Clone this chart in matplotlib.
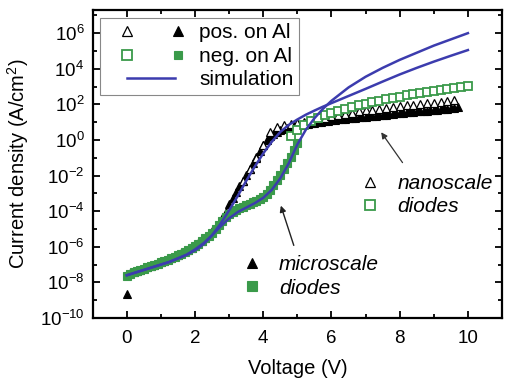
import numpy as np
import matplotlib
matplotlib.use('Agg')
import matplotlib.pyplot as plt
from matplotlib.lines import Line2D
from matplotlib.ticker import LogLocator, NullFormatter

# Voltages (V) and log10 of current density (A/cm^2)
v_neg_micro = [0.0, 0.1, 0.2, 0.3, 0.4, 0.5, 0.6, 0.7, 0.8, 0.9,
               1.0, 1.1, 1.2, 1.3, 1.4, 1.5, 1.6, 1.7, 1.8, 1.9,
               2.0, 2.1, 2.2, 2.3, 2.4, 2.5, 2.6, 2.7, 2.8, 2.9,
               3.0, 3.1, 3.2, 3.3, 3.4, 3.5, 3.6, 3.7, 3.8, 3.9,
               4.0, 4.1, 4.2, 4.3, 4.4, 4.5, 4.6, 4.7, 4.8, 4.9, 5.0]
j_neg_micro = [-7.65, -7.52, -7.44, -7.37, -7.30, -7.23, -7.16, -7.09, -7.02, -6.95,
               -6.88, -6.80, -6.72, -6.64, -6.56, -6.47, -6.38, -6.28, -6.18, -6.07,
               -5.95, -5.82, -5.68, -5.53, -5.37, -5.20, -5.00, -4.78, -4.55, -4.33,
               -4.15, -4.02, -3.92, -3.83, -3.75, -3.67, -3.59, -3.50, -3.41, -3.32,
               -3.20, -3.02, -2.80, -2.55, -2.27, -1.97, -1.65, -1.30, -0.93, -0.55, -0.15]

v_pos_micro = [0.0, 0.1, 0.2, 0.3, 0.4, 0.5, 0.6, 0.7, 0.8, 0.9,
               1.0, 1.1, 1.2, 1.3, 1.4, 1.5, 1.6, 1.7, 1.8, 1.9,
               2.0, 2.1, 2.2, 2.3, 2.4, 2.5, 2.6, 2.7, 2.8, 2.9,
               3.0, 3.1, 3.2, 3.3, 3.4, 3.5, 3.6, 3.7, 3.8, 3.9,
               4.0, 4.1, 4.2, 4.3, 4.4, 4.5, 4.6, 4.7, 4.8, 4.9,
               5.0, 5.1, 5.2, 5.3, 5.4, 5.5, 5.6, 5.7, 5.8, 5.9,
               6.0, 6.1, 6.2, 6.3, 6.4, 6.5, 6.6, 6.7, 6.8, 6.9,
               7.0, 7.1, 7.2, 7.3, 7.4, 7.5, 7.6, 7.7, 7.8, 7.9,
               8.0, 8.1, 8.2, 8.3, 8.4, 8.5, 8.6, 8.7, 8.8, 8.9,
               9.0, 9.1, 9.2, 9.3, 9.4, 9.5, 9.6, 9.7]
j_pos_micro = [-8.65, -7.50, -7.42, -7.35, -7.28, -7.21, -7.14, -7.07, -7.00, -6.93,
               -6.86, -6.78, -6.70, -6.62, -6.54, -6.45, -6.36, -6.26, -6.16, -6.05,
               -5.93, -5.80, -5.65, -5.48, -5.30, -5.12, -4.94, -4.70, -4.40, -4.02,
               -3.62, -3.26, -2.92, -2.60, -2.28, -1.95, -1.62, -1.30, -0.97, -0.62,
               -0.30, -0.02, 0.20, 0.36, 0.47, 0.56, 0.62, 0.67, 0.72, 0.76,
               0.80, 0.83, 0.87, 0.90, 0.93, 0.96, 0.99, 1.02, 1.05, 1.08,
               1.11, 1.13, 1.15, 1.17, 1.19, 1.21, 1.23, 1.25, 1.27, 1.29,
               1.31, 1.33, 1.35, 1.37, 1.39, 1.41, 1.43, 1.45, 1.47, 1.49,
               1.51, 1.53, 1.55, 1.56, 1.58, 1.60, 1.62, 1.63, 1.65, 1.67,
               1.69, 1.71, 1.72, 1.74, 1.76, 1.78, 1.80, 1.83]

v_pos_nano = [3.4, 3.6, 3.8, 4.0, 4.2, 4.4, 4.6, 4.8, 5.0, 5.2, 5.4, 5.6, 5.8, 6.0,
              6.2, 6.4, 6.6, 6.8, 7.0, 7.2, 7.4, 7.6, 7.8, 8.0, 8.2, 8.4, 8.6, 8.8,
              9.0, 9.2, 9.4, 9.6]
j_pos_nano = [-2.30, -1.65, -1.00, -0.30, 0.45, 0.72, 0.82, 0.88, 0.95, 1.03, 1.10, 1.18,
              1.26, 1.34, 1.41, 1.48, 1.54, 1.60, 1.66, 1.71, 1.76, 1.81, 1.86, 1.90,
              1.94, 1.98, 2.02, 2.06, 2.10, 2.14, 2.18, 2.22]

v_neg_nano = [4.8, 5.0, 5.2, 5.4, 5.6, 5.8, 6.0, 6.2, 6.4, 6.6, 6.8, 7.0, 7.2, 7.4,
              7.6, 7.8, 8.0, 8.2, 8.4, 8.6, 8.8, 9.0, 9.2, 9.4, 9.6, 9.8, 10.0]
j_neg_nano = [0.20, 0.55, 0.85, 1.05, 1.22, 1.38, 1.52, 1.64, 1.75, 1.85, 1.95, 2.04,
              2.12, 2.20, 2.28, 2.36, 2.43, 2.50, 2.57, 2.63, 2.69, 2.75, 2.81, 2.87,
              2.93, 2.98, 3.03]

v_sim = [0.0, 0.25, 0.5, 0.75, 1.0, 1.25, 1.5, 1.75, 2.0, 2.25, 2.5, 2.75, 3.0,
         3.25, 3.5, 3.75, 4.0, 4.25, 4.5, 4.75, 5.0, 5.25, 5.5, 5.75, 6.0, 6.5,
         7.0, 7.5, 8.0, 8.5, 9.0, 9.5, 10.0]
j_sim_pos = [-7.60, -7.45, -7.30, -7.15, -7.00, -6.85, -6.65, -6.45, -6.20, -5.85,
             -5.35, -4.70, -3.95, -3.15, -2.30, -1.50, -0.75, -0.10, 0.45, 0.85,
             1.15, 1.42, 1.65, 1.87, 2.07, 2.47, 2.87, 3.28, 3.68, 4.05, 4.40, 4.73, 5.05]
j_sim_neg = [-7.60, -7.45, -7.30, -7.15, -7.00, -6.85, -6.65, -6.45, -6.15, -5.80,
             -5.35, -4.85, -4.40, -4.05, -3.80, -3.55, -3.25, -2.80, -2.15, -1.30,
             -0.25, 0.58, 1.22, 1.75, 2.20, 2.95, 3.55, 4.05, 4.50, 4.90, 5.30, 5.65, 6.00]

GREEN = '#3a9a4a'
BLUE = '#3c3cae'


class PairHandler:
    # open + filled marker at the two ends of the legend handle
    def legend_artist(self, legend, orig_handle, fontsize, handlebox):
        x0, y0 = handlebox.xdescent, handlebox.ydescent
        w, h = handlebox.width, handlebox.height
        arts = []
        for frac, src in zip((0.3, 1.0), orig_handle):
            m = Line2D([x0 + frac * w], [y0 + h / 2], linestyle='none',
                       marker=src.get_marker(), markersize=src.get_markersize() * 1.2,
                       markerfacecolor=src.get_markerfacecolor(),
                       markeredgecolor=src.get_markeredgecolor(),
                       markeredgewidth=src.get_markeredgewidth(),
                       transform=handlebox.get_transform())
            handlebox.add_artist(m)
            arts.append(m)
        return arts[0]


class SimHandler:
    def legend_artist(self, legend, orig_handle, fontsize, handlebox):
        x0, y0 = handlebox.xdescent, handlebox.ydescent
        w, h = handlebox.width, handlebox.height
        ln = Line2D([x0 + 0.3 * w, x0 + 0.95 * w], [y0 + h / 2, y0 + h / 2],
                    color=orig_handle.get_color(), lw=orig_handle.get_linewidth(),
                    transform=handlebox.get_transform())
        handlebox.add_artist(ln)
        return ln


plt.rcParams['font.family'] = ['Liberation Sans', 'DejaVu Sans']
plt.rcParams['mathtext.fontset'] = 'custom'
plt.rcParams['mathtext.rm'] = 'Liberation Sans'
plt.rcParams['mathtext.it'] = 'Liberation Sans:italic'

fig = plt.figure(figsize=(5.05, 3.8), dpi=100)
ax = fig.add_axes([0.1836, 0.1632, 0.8105, 0.8105])

def dec(vals):
    return [10.0 ** v for v in vals]

h_tri, = ax.plot(v_pos_micro, dec(j_pos_micro), linestyle='none', marker='^', ms=6,
                 mfc='black', mec='black', mew=0.8)
h_sq, = ax.plot(v_neg_micro, dec(j_neg_micro), linestyle='none', marker='s', ms=5.3,
                mfc=GREEN, mec=GREEN, mew=0.8)
h_tri_open, = ax.plot(v_pos_nano, dec(j_pos_nano), linestyle='none', marker='^', ms=6,
                      mfc='white', mec='black', mew=0.9)
h_sq_open, = ax.plot(v_neg_nano, dec(j_neg_nano), linestyle='none', marker='s', ms=5.5,
                     mfc='white', mec=GREEN, mew=1.3)
h_sim, = ax.plot(v_sim, dec(j_sim_pos), color=BLUE, lw=1.8)
ax.plot(v_sim, dec(j_sim_neg), color=BLUE, lw=1.8)

ax.set_yscale('log')
ax.set_xlim(-1, 11)
ax.set_ylim(1e-10, 2e7)
ax.set_xticks([0, 2, 4, 6, 8, 10])
ax.set_xticks([1, 3, 5, 7, 9], minor=True)
ax.yaxis.set_major_locator(LogLocator(base=100, numticks=20))
ax.yaxis.set_minor_locator(LogLocator(base=10, numticks=30))
ax.yaxis.set_minor_formatter(NullFormatter())
ax.tick_params(which='both', direction='in', top=True, right=True, width=1.3,
               labelsize=13.5)
ax.tick_params(axis='x', pad=9)
ax.tick_params(axis='y', pad=6)
ax.tick_params(which='major', length=5)
ax.tick_params(which='minor', length=3)
for s in ax.spines.values():
    s.set_linewidth(1.6)

ax.set_xlabel('Voltage (V)', fontsize=14.5, labelpad=8)
ax.set_ylabel('Current density (A/cm$^2$)', fontsize=14.5, labelpad=6)

leg = ax.legend([(h_tri_open, h_tri), (h_sq_open, h_sq), h_sim],
                ['pos. on Al', 'neg. on Al', 'simulation'],
                handler_map={tuple: PairHandler(), Line2D: SimHandler()},
                loc='upper left', bbox_to_anchor=(0.018, 0.974), borderaxespad=0,
                fontsize=15, handlelength=3.5, handletextpad=1.0, borderpad=0.25,
                labelspacing=0.22, fancybox=False, edgecolor='#888888', framealpha=1)
leg.get_frame().set_linewidth(0.8)
ax.add_artist(leg)

leg_nano = ax.legend([h_tri_open, h_sq_open], ['nanoscale', 'diodes'],
                     loc='upper left', bbox_to_anchor=(0.632, 0.495), borderaxespad=0,
                     frameon=False, prop={'style': 'italic', 'size': 15},
                     handlelength=1.0, handletextpad=0.8, labelspacing=0.2,
                     markerscale=1.3)
ax.add_artist(leg_nano)

ax.legend([h_tri, h_sq], ['microscale', 'diodes'],
          loc='upper left', bbox_to_anchor=(0.343, 0.23), borderaxespad=0,
          frameon=False, prop={'style': 'italic', 'size': 15},
          handlelength=1.0, handletextpad=0.8, labelspacing=0.2, markerscale=1.3)

# arrows pointing from the labels to the curves
ax.annotate('', xy=(7.41, 10 ** 0.56), xytext=(8.13, 10 ** -1.4),
            arrowprops=dict(arrowstyle='-|>', color='#333333', lw=0.9, mutation_scale=9))
ax.annotate('', xy=(4.49, 10 ** -3.54), xytext=(4.92, 10 ** -6.07),
            arrowprops=dict(arrowstyle='-|>', color='#222222', lw=1.0, mutation_scale=9))

fig.savefig('out.png', dpi=100)
